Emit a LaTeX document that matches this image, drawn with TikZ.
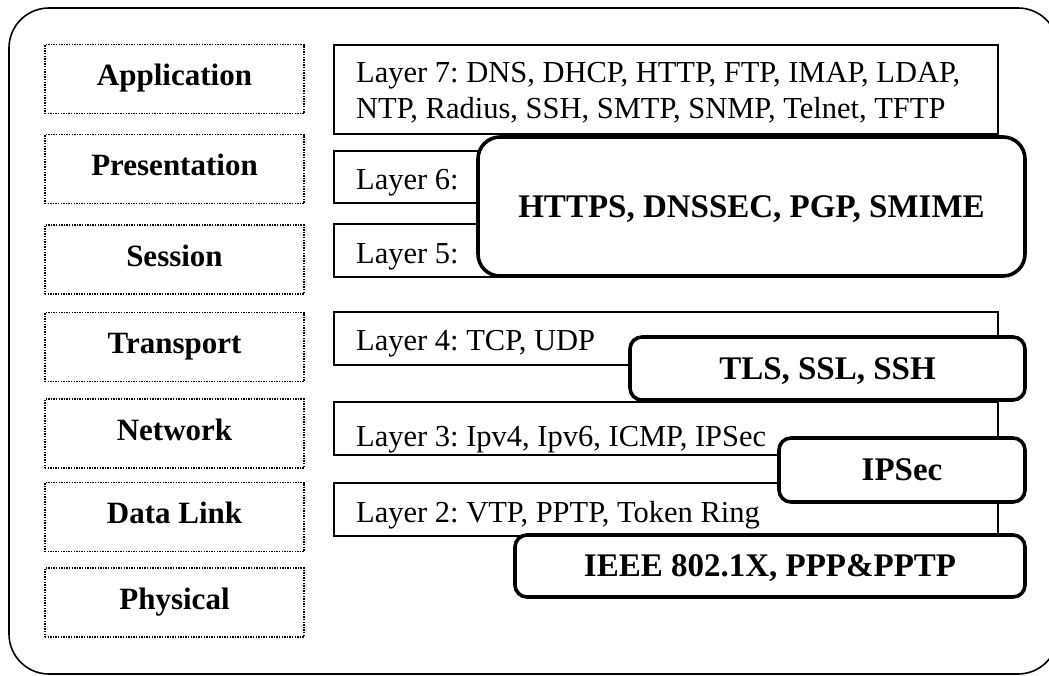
\documentclass[tikz,border=0pt]{standalone}
\usepackage{fontspec}
\setmainfont{Liberation Serif}
\frenchspacing
\begin{document}
\begin{tikzpicture}[x=1pt,y=-1pt,
  outerframe/.style={draw, line width=1.6pt, rounded corners=40pt},
  namebox/.style={draw, line width=1.6pt, dash pattern=on 1.4pt off 1.2pt,
    minimum width=259pt, minimum height=69pt, inner sep=0pt,
    font=\fontsize{31}{36}\selectfont\bfseries, text height=20pt, text depth=7pt},
  layerbox/.style={draw, line width=2pt, inner sep=0pt, minimum width=664pt},
  layertext/.style={anchor=base west, inner sep=0pt, font=\fontsize{30.5}{36}\selectfont},
  protobox/.style={draw, fill=white, line width=3.6pt, rounded corners=12pt, inner sep=0pt,
    font=\fontsize{33}{38}\selectfont\bfseries, text height=21pt, text depth=0pt}
]
\useasboundingbox (0,0) rectangle (1049,675);

% outer rounded frame
\draw[outerframe] (9,8) rectangle (1058,674);

% OSI layer names
\node[namebox] (app)   at (174.5,79)    {Application};
\node[namebox] (pres)  at (174.5,169)   {Presentation};
\node[namebox] (sess)  at (174.5,259.5) {Session};
\node[namebox] (trans) at (174.5,347)   {Transport};
\node[namebox] (net)   at (174.5,433.5) {Network};
\node[namebox] (dl)    at (174.5,517)   {Data Link};
\node[namebox] (phys)  at (174.5,602.5) {Physical};

% protocol boxes per layer
\node[layerbox, minimum height=89pt] (l7) at (666,89.5)  {};
\node[layerbox, minimum height=52pt] (l6) at (666,177)   {};
\node[layerbox, minimum height=53pt] (l5) at (666,250.5) {};
\node[layerbox, minimum height=53pt] (l4) at (666,338.5) {};
\node[layerbox, minimum height=53pt] (l3) at (666,428.5) {};
\node[layerbox, minimum height=53pt] (l2) at (666,509.5) {};

\node[layertext] (t7a) at (356,82)  {Layer 7: DNS, DHCP, HTTP, FTP, IMAP, LDAP,};
\node[layertext] (t7b) at (356,118) {NTP, Radius, SSH, SMTP, SNMP, Telnet, TFTP};
\node[layertext] (t6)  at (356,189) {Layer 6:};
\node[layertext] (t5)  at (356,263) {Layer 5:};
\node[layertext] (t4)  at (356,350) {Layer 4: TCP, UDP};
\begin{scope}
  \clip (334,400) rectangle (998,452);
  \node[layertext] (t3) at (356,446) {Layer 3: Ipv4, Ipv6, ICMP, IPSec};
\end{scope}
\begin{scope}
  \clip (334,480) rectangle (998,528);
  \node[layertext] (t2) at (356,522) {Layer 2: VTP, PPTP, Token Ring};
\end{scope}

% security protocols
\node[protobox, rounded corners=22pt, minimum width=547pt, minimum height=139pt]
  (https) at (751.5,206.5) {HTTPS, DNSSEC, PGP, SMIME};
\node[protobox, minimum width=395pt, minimum height=63pt] (tls)   at (827.5,368.5) {TLS, SSL, SSH};
\node[protobox, minimum width=246pt, minimum height=64pt] (ipsec) at (902,470)     {IPSec};
\node[protobox, minimum width=510pt, minimum height=62pt] (ieee)  at (770,566)     {IEEE 802.1X, PPP\&PPTP};
\end{tikzpicture}
\end{document}
